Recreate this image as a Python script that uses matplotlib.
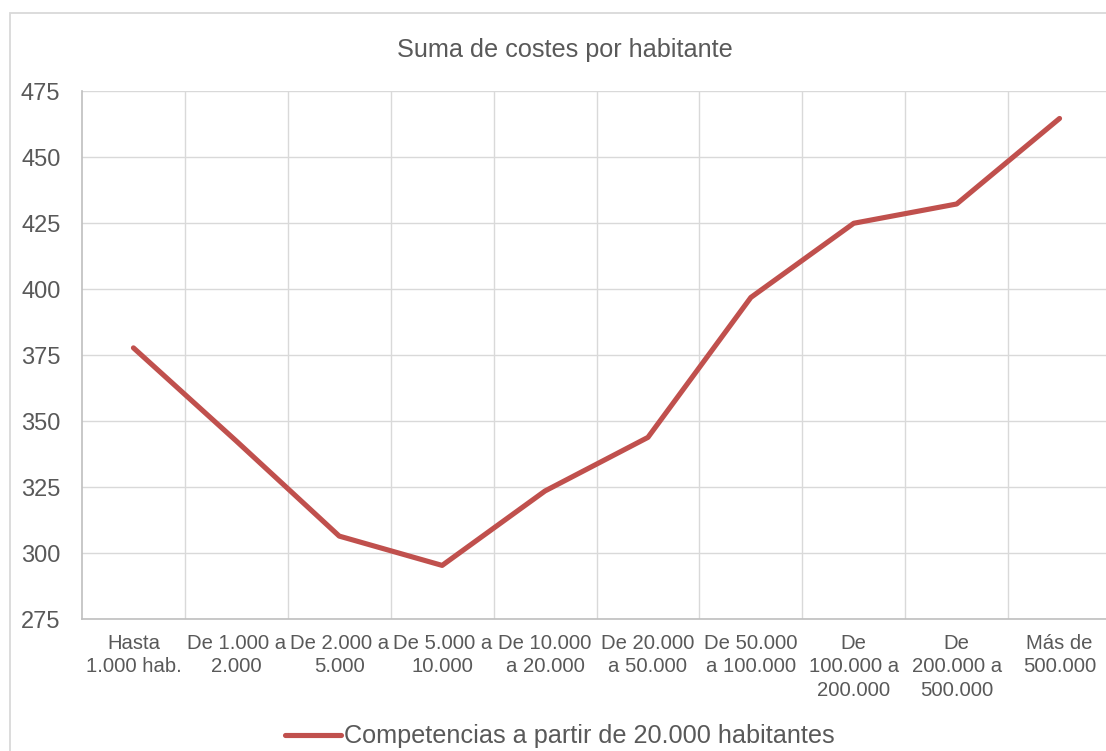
import matplotlib
matplotlib.use("Agg")
import matplotlib.pyplot as plt
from matplotlib.patches import Rectangle
from matplotlib.lines import Line2D

plt.rcParams['font.family'] = ['Liberation Sans', 'DejaVu Sans']

categories = ["Hasta\n1.000 hab.", "De 1.000 a\n2.000", "De 2.000 a\n5.000",
              "De 5.000 a\n10.000", "De 10.000\na 20.000", "De 20.000\na 50.000",
              "De 50.000\na 100.000", "De\n100.000 a\n200.000", "De\n200.000 a\n500.000",
              "Más de\n500.000"]
values = [377.7, 342.4, 306.4, 295.3, 323.5, 343.8, 396.8, 424.9, 432.2, 464.6]
series_name = "Competencias a partir de 20.000 habitantes"
title = "Suma de costes por habitante"
yticks = [275, 300, 325, 350, 375, 400, 425, 450, 475]

W, H = 1106, 751
fig = plt.figure(figsize=(W / 100, H / 100), dpi=100)
fig.patch.set_facecolor('white')

# outer chart border (cropped on right and bottom)
fig.add_artist(Rectangle((10 / W, -0.1), 1.2, (H - 13) / H + 0.1,
                         transform=fig.transFigure, fill=False,
                         edgecolor='#d9d9d9', linewidth=1.3))

left, right, top, bottom = 82, 1111, 91, 619
ax = fig.add_axes([left / W, 1 - bottom / H, (right - left) / W, (bottom - top) / H])

x = list(range(len(categories)))
line, = ax.plot(x, values, color='#C0504D', linewidth=3.7,
                solid_capstyle='round', solid_joinstyle='round', zorder=3)

ax.set_xlim(-0.5, len(categories) - 0.5)
ax.set_ylim(275, 475)
ax.set_yticks(yticks)
ax.set_xticks(x)
ax.set_xticklabels(categories, fontsize=14.6, color='#595959',
                   linespacing=1.28, multialignment='center')
ax.set_xticks([i + 0.5 for i in x], minor=True)
ax.tick_params(axis='x', which='both', length=0, pad=11)
ax.tick_params(axis='y', length=0, pad=15.5, labelsize=17, labelcolor='#595959')

ax.grid(True, axis='y', which='major', color='#d9d9d9', linewidth=1.0)
ax.grid(True, axis='x', which='minor', color='#d9d9d9', linewidth=1.0)
ax.grid(False, axis='x', which='major')
ax.set_axisbelow(True)

for s in ['top', 'right']:
    ax.spines[s].set_visible(False)
for s in ['left', 'bottom']:
    ax.spines[s].set_color('#bfbfbf')
    ax.spines[s].set_linewidth(1.2)

fig.text(564.5 / W, 1 - 50 / H, title, ha='center', va='center',
         fontsize=18.2, color='#595959')

handle = Line2D([0], [0], color='#C0504D', linewidth=3.7, solid_capstyle='round')
fig.legend([handle], [series_name], loc='center',
           bbox_to_anchor=(560 / W, 1 - 736.5 / H), frameon=False,
           fontsize=18.2, labelcolor='#595959', handlelength=2.2,
           handletextpad=0.15, borderpad=0, borderaxespad=0)

fig.savefig('out.png', dpi=100, facecolor='white')
